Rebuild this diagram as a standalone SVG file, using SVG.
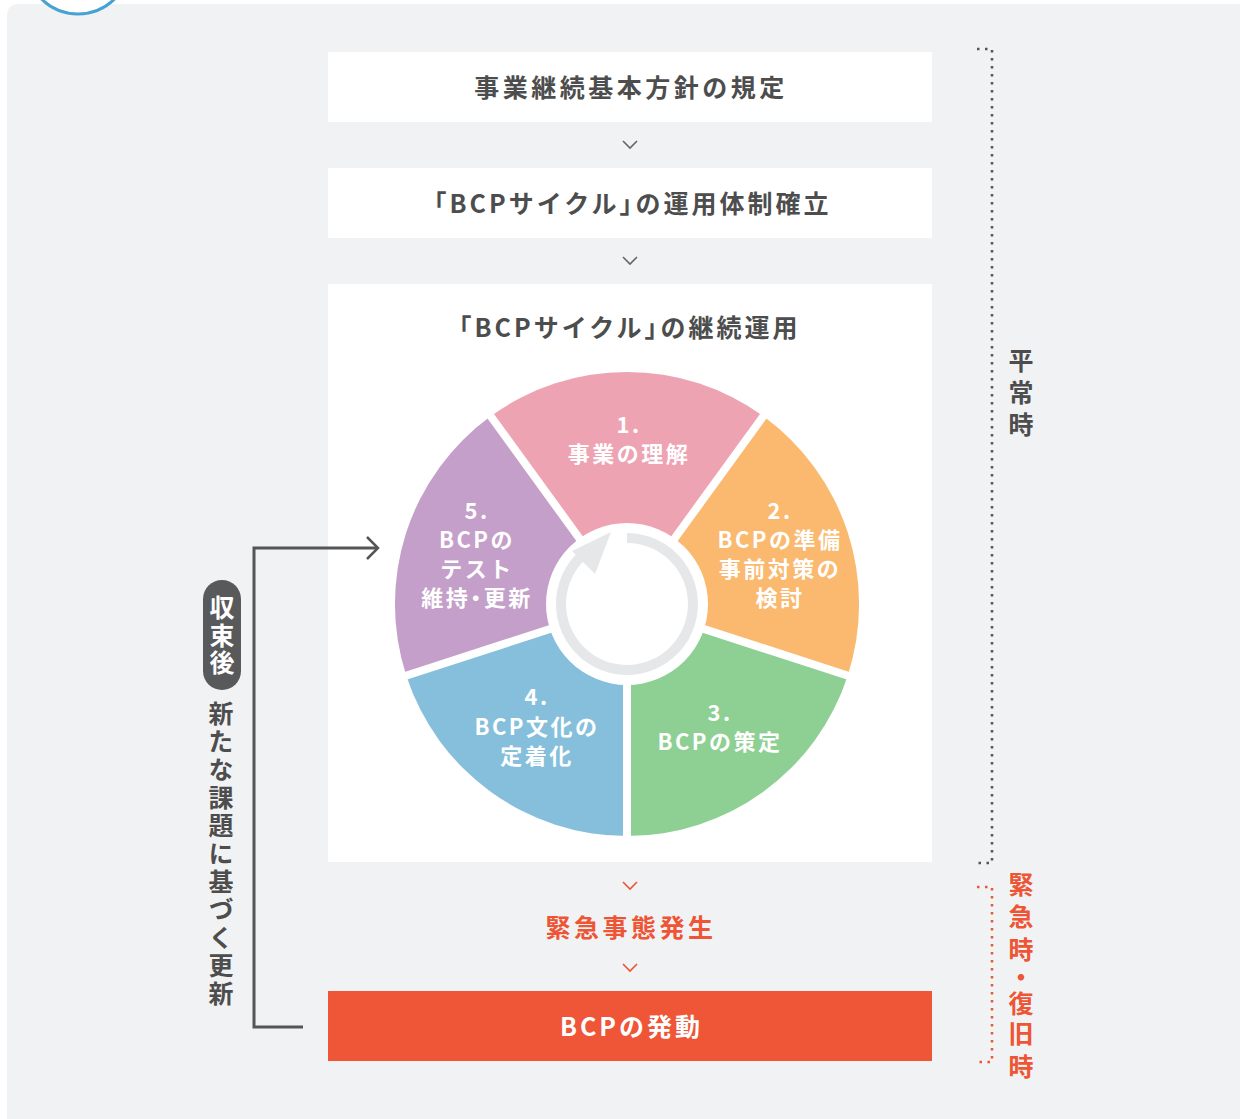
<svg xmlns="http://www.w3.org/2000/svg" width="1240" height="1119" viewBox="0 0 1240 1119">
<defs>
<style>
.t{font-family:"Noto Sans CJK JP","Noto Sans",sans-serif;font-weight:700;text-anchor:middle}
.dk{fill:#4d4d4d}
.big{font-size:25px;letter-spacing:3px}
.big2{font-size:25px;letter-spacing:3.5px}
.seg{font-size:22px;letter-spacing:2.5px;fill:#fff}
.hw{font-feature-settings:"halt"}
.v{font-family:"Noto Sans CJK JP","Noto Sans",sans-serif;font-weight:700;font-size:25px;writing-mode:vertical-rl;text-orientation:upright}
.red{fill:#ee5535}
.wh{fill:#fff}
.box{fill:#fff}
.chev{fill:none;stroke:#666;stroke-width:1.6}
.chevr{fill:none;stroke:#ee5535;stroke-width:1.6}
.dotg{fill:none;stroke:#555;stroke-width:2.5;stroke-dasharray:2.5 5.5}
.dotr{fill:none;stroke:#ee5535;stroke-width:2.5;stroke-dasharray:2.5 5.5}
.sep{stroke:#fff;stroke-width:8}
</style>
</defs>
<rect x="7" y="4" width="1243" height="1125" rx="10" fill="#f1f2f4"/>
<circle cx="78" cy="-38" r="52" fill="#fff" stroke="#45a2d2" stroke-width="3"/>

<g id="node-policy">
<rect class="box" x="328" y="52" width="604" height="70"/>
<text class="t dk big2" x="631" y="97">事業継続基本方針の規定</text>
</g>
<g id="node-system">
<rect class="box" x="328" y="168" width="604" height="70"/>
<text class="t dk big" x="626.5" y="213">「BCPサイクル」<tspan dx="-12">の運用体制確立</tspan></text>
</g>
<g id="node-cycle">
<rect class="box" x="328" y="284" width="604" height="578"/>
<text class="t dk big" x="623.5" y="337">「BCPサイクル」<tspan dx="-12">の継続運用</tspan></text>
<g id="pie">
<path d="M627,604 L490.6,416.3 A232,232 0 0 1 763.4,416.3 Z" fill="#eea3b3"/>
<path d="M627,604 L763.4,416.3 A232,232 0 0 1 847.7,675.7 Z" fill="#fab96e"/>
<path d="M627,604 L847.7,675.7 A232,232 0 0 1 627,836 Z" fill="#8ed093"/>
<path d="M627,604 L627,836 A232,232 0 0 1 406.3,675.7 Z" fill="#86bfdb"/>
<path d="M627,604 L406.3,675.7 A232,232 0 0 1 490.6,416.3 Z" fill="#c49fc9"/>
<line class="sep" x1="627" y1="604" x2="488" y2="412.5"/>
<line class="sep" x1="627" y1="604" x2="766" y2="412.5"/>
<line class="sep" x1="627" y1="604" x2="852" y2="677"/>
<line class="sep" x1="627" y1="604" x2="627" y2="840"/>
<line class="sep" x1="627" y1="604" x2="402" y2="677"/>
<circle cx="627" cy="604" r="81" fill="#fff"/>
<path d="M627,538 A66,66 0 1 1 584.6,553.4" fill="none" stroke="#e6e7e8" stroke-width="10"/>
<polygon points="611,532 572,551 595,574" fill="#e6e7e8"/>
</g>
<g id="seg1">
<text class="t seg" x="629" y="433">1.</text>
<text class="t seg" x="629" y="462">事業の理解</text>
</g>
<g id="seg2">
<text class="t seg" x="780" y="519">2.</text>
<text class="t seg" x="780" y="548">BCPの準備</text>
<text class="t seg" x="780" y="577">事前対策の</text>
<text class="t seg" x="780" y="606">検討</text>
</g>
<g id="seg3">
<text class="t seg" x="720" y="721">3.</text>
<text class="t seg" x="720" y="750">BCPの策定</text>
</g>
<g id="seg4">
<text class="t seg" x="537" y="705">4.</text>
<text class="t seg" x="537" y="735">BCP文化の</text>
<text class="t seg" x="537" y="764">定着化</text>
</g>
<g id="seg5">
<text class="t seg" x="477" y="519">5.</text>
<text class="t seg" x="477" y="548">BCPの</text>
<text class="t seg" x="477" y="577">テスト</text>
<text class="t seg" x="477" y="606">維持<tspan class="hw">・</tspan>更新</text>
</g>
</g>
<g id="node-emergency">
<text class="t red big2" x="631" y="937">緊急事態発生</text>
</g>
<g id="node-activate">
<rect x="328" y="991" width="604" height="70" fill="#ef5537"/>
<text class="t wh big" x="631.5" y="1036">BCPの発動</text>
</g>

<g id="label-normal">
<path class="dotg" d="M977,49 H992 V863 H977"/>
<text class="v dk" x="1021" y="347.5 379.5 411.5">平常時</text>
</g>
<g id="label-emergency">
<path class="dotr" d="M977,887 H992 V1062 H977"/>
<text class="v red" x="1021" y="871.5 903.5 936.5 964.5 990.5 1020.5 1053.5">緊急時・復旧時</text>
</g>
<g id="label-update">
<rect x="203" y="580" width="38" height="110" rx="19" fill="#58595b"/>
<text class="v wh" x="222" y="594.5 622.5 649.5">収束後</text>
<text class="v dk" x="221" y="700.5 728.5 756.5 784.5 812.5 840.5 868.5 896.5 924.5 952.5 980.5">新たな課題に基づく更新</text>
</g>

<g id="connectors">
<path class="chev" d="M623,141 L630,148 L637,141"/>
<path class="chev" d="M623,257 L630,264 L637,257"/>
<path class="chevr" d="M623,882 L630,889 L637,882"/>
<path class="chevr" d="M623,964 L630,971 L637,964"/>
<path d="M303,1027 H254 V548 H377" fill="none" stroke="#555" stroke-width="3"/>
<path d="M367,537 L378,548 L367,559" fill="none" stroke="#555" stroke-width="2.5"/>
</g>
</svg>
